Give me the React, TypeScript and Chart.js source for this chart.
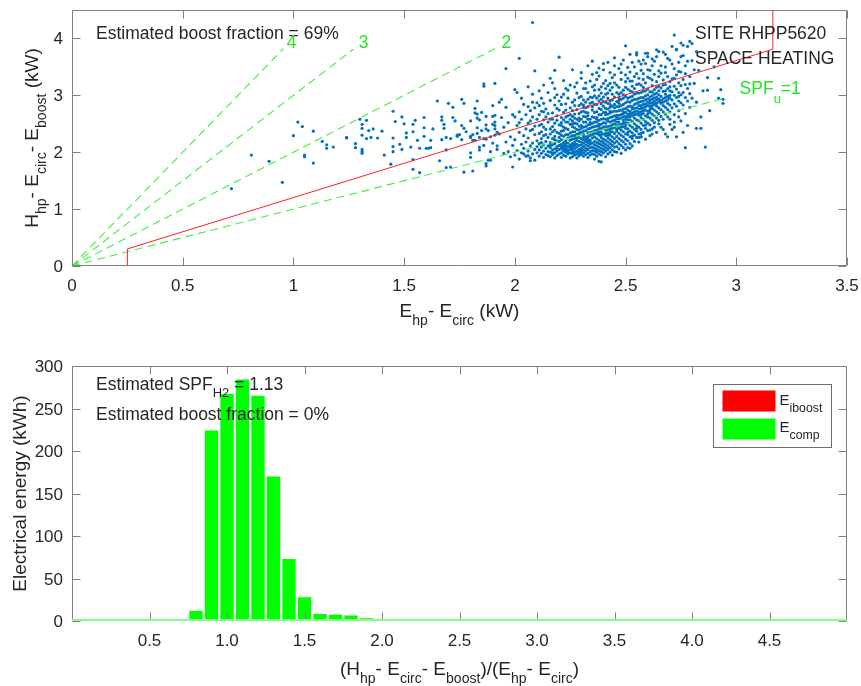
import React, { useEffect, useRef } from 'react';
import { Chart, registerables } from 'chart.js';
Chart.register(...registerables);

const FONT = '"Liberation Sans", Arial, Helvetica, sans-serif';
const TEXT = '#262626';
const AXIS = '#808080';

// ---------------- Top panel data ----------------
const topXTicks = [0, 0.5, 1, 1.5, 2, 2.5, 3, 3.5];
const topXTickLabels = ['0', '0.5', '1', '1.5', '2', '2.5', '3', '3.5'];
const topYTicks = [0, 1, 2, 3, 4];
const topYTickLabels = ['0', '1', '2', '3', '4'];

const boostLineX = [0, 0.25, 0.25, 3.165, 3.165];
const boostLineY = [0, 0, 0.3, 3.81, 4.6];

const spfNames = ['1', '2', '3', '4'];
const spfEndX = [2.95, 1.91, 1.27, 0.955];
const spfEndY = [2.95, 3.82, 3.81, 3.82];
const spfLabelX = [3.015, 1.94, 1.295, 0.97];
const spfLabelY = [3.015, 3.825, 3.825, 3.825];

const scatterPoints: number[][] = [
  [1.02,2.53],[1.04,2.45],[1.00,2.29],[1.09,2.37],[1.13,2.19],[1.15,2.13],[1.15,2.07],[1.18,2.09],[1.24,2.26],[0.81,1.95],[0.89,1.84],[1.05,1.95],[1.05,1.92],[1.09,1.81],[0.95,1.47],[0.72,1.36],
  [1.24,2.25],[1.28,2.15],[1.28,2.08],[1.30,2.58],[1.33,2.56],[1.31,2.49],[1.31,2.42],[1.31,2.30],[1.36,2.41],[1.34,2.38],[1.33,2.24],[1.35,2.26],[1.31,2.05],[1.31,2.01],[1.31,1.98],[1.38,2.25],[1.40,2.37],[1.41,1.95],[1.44,1.79],[1.45,2.72],[1.46,2.54],[1.45,2.25],[1.45,2.10],[1.45,2.01],[1.49,2.62],[1.48,2.14],[1.49,2.05],[1.50,2.50],[1.51,2.34],[1.51,2.26],[1.53,2.09],[1.54,1.87],[1.54,1.70],[1.55,2.56],[1.54,2.49],[1.54,2.36],[1.56,2.21],[1.57,1.64],[1.57,2.07],[1.59,2.61],[1.59,2.43],[1.59,2.28],[1.60,2.07],[1.61,2.07],[1.62,2.08],[1.62,2.21],[1.63,2.41],[1.65,2.90],[1.66,1.85],[1.67,2.22],[1.67,2.62],[1.67,2.56],[1.68,2.49],[1.68,2.42],[1.69,2.26],[1.69,2.04],[1.69,1.73],[1.70,2.86],[1.71,2.24],[1.71,1.74],[1.72,2.79],[1.72,2.61],[1.73,2.55],[1.74,2.30],[1.74,2.28],[1.75,2.31],[1.76,2.47],[1.76,2.93],[1.76,2.22],[1.77,1.65],[1.77,2.86],[1.77,2.42],[1.78,2.36],[1.80,2.55],[1.80,2.28],[1.80,1.91],[1.80,1.99],[1.80,2.26],[1.81,1.67],[1.81,2.31],[1.81,2.21],[1.82,2.21],[1.82,2.69],[1.82,2.77],[1.83,2.90],[1.83,2.60],[1.83,2.43],[1.83,2.33],[1.83,2.67],[1.84,2.04],[1.84,2.26],[1.84,2.57],[1.84,2.09],[1.85,2.38],[1.85,2.70],[1.86,2.24],[1.86,3.20],[1.86,3.16],[1.86,2.12],[1.87,2.63],[1.87,1.80],[1.87,1.76],[1.87,2.48],[1.87,2.41],[1.87,2.23],[1.88,2.38],[1.88,1.86],[1.89,2.01],[1.89,1.86],[1.89,2.27],[1.90,2.63],[1.90,2.16],[1.90,2.82],[1.90,2.49],[1.91,2.41],[1.91,2.30],[1.91,3.21],[1.91,2.65],[1.91,2.53],[1.91,2.47],[1.92,2.35],[1.92,2.11],
  [1.92,2.05],[1.93,2.32],[1.94,2.61],[1.95,1.98],[1.95,2.44],[1.96,2.18],[1.96,2.79],[1.97,2.01],[1.97,2.52],[1.98,2.27],[1.98,1.92],[1.99,2.66],[1.99,2.12],[1.93,2.88],
  [2.00,1.95],[2.00,2.22],[2.01,2.47],[2.01,2.03],[2.02,2.71],[2.02,1.88],[2.02,2.35],[2.03,2.14],[2.03,2.58],[2.03,1.99],[2.04,2.29],[2.04,2.84],[2.04,2.07],[2.01,3.05],[2.05,1.93],[2.05,2.41],[2.05,2.18],[2.00,2.62],[2.03,2.95],[2.04,1.97],
  [2.06,2.02],[2.06,2.25],[2.06,2.51],[2.07,1.90],[2.07,2.11],[2.07,2.73],[2.07,2.38],[2.08,1.97],[2.08,2.16],[2.08,2.62],[2.08,3.02],[2.09,2.05],[2.09,2.31],[2.09,2.46],[2.09,1.86],[2.10,2.20],[2.10,2.87],[2.10,1.99],[2.06,3.15],[2.07,2.55],[2.08,2.40],[2.09,2.78],[2.10,2.10],[2.06,1.94],[2.10,2.58],
  [2.11,1.93],[2.11,2.04],[2.11,2.15],[2.11,2.33],[2.11,2.66],[2.12,1.98],[2.12,2.09],[2.12,2.24],[2.12,2.49],[2.12,2.95],[2.13,1.91],[2.13,2.02],[2.13,2.13],[2.13,2.29],[2.13,2.57],[2.13,3.18],[2.14,1.96],[2.14,2.07],[2.14,2.19],[2.14,2.40],[2.14,2.76],[2.15,2.01],[2.15,2.11],[2.15,2.26],[2.15,2.53],[2.15,3.05],[2.11,2.82],[2.12,2.36],[2.13,2.44],[2.14,2.62],[2.15,1.94],[2.12,2.17],[2.14,2.31],[2.11,2.47],[2.13,2.71],
  [2.16,1.92],[2.16,2.00],[2.16,2.08],[2.16,2.17],[2.16,2.32],[2.16,2.58],[2.16,2.91],[2.17,1.96],[2.17,2.04],[2.17,2.13],[2.17,2.24],[2.17,2.45],[2.17,2.69],[2.17,3.22],[2.18,1.90],[2.18,1.99],[2.18,2.06],[2.18,2.15],[2.18,2.28],[2.18,2.39],[2.18,2.83],[2.19,1.94],[2.19,2.02],[2.19,2.10],[2.19,2.20],[2.19,2.35],[2.19,2.56],[2.19,3.01],[2.20,1.97],[2.20,2.05],[2.20,2.12],[2.20,2.26],[2.20,2.48],[2.20,2.74],[2.16,2.41],[2.17,2.36],[2.18,2.51],[2.19,2.64],[2.20,2.19],[2.16,2.12],[2.18,2.22],[2.17,1.99],[2.19,2.07],[2.20,2.33],[2.18,3.12],
  [2.21,1.91],[2.21,1.99],[2.21,2.06],[2.21,2.14],[2.21,2.22],[2.21,2.37],[2.21,2.61],[2.21,2.97],[2.22,1.95],[2.22,2.02],[2.22,2.09],[2.22,2.17],[2.22,2.28],[2.22,2.44],[2.22,2.70],[2.22,3.26],[2.23,1.93],[2.23,2.00],[2.23,2.07],[2.23,2.12],[2.23,2.20],[2.23,2.31],[2.23,2.53],[2.23,2.85],[2.24,1.97],[2.24,2.04],[2.24,2.10],[2.24,2.16],[2.24,2.25],[2.24,2.40],[2.24,2.64],[2.24,3.09],[2.25,1.90],[2.25,1.99],[2.25,2.05],[2.25,2.13],[2.25,2.21],[2.25,2.34],[2.25,2.49],[2.25,2.78],[2.21,2.30],[2.22,2.12],[2.23,2.42],[2.24,2.31],[2.25,2.58],[2.21,2.47],[2.22,2.57],[2.23,2.17],[2.24,2.53],[2.25,2.27],[2.22,2.05],[2.23,2.04],[2.24,2.00],[2.21,2.10],[2.25,2.09],
  [2.26,1.92],[2.26,1.98],[2.26,2.03],[2.26,2.08],[2.26,2.15],[2.26,2.23],[2.26,2.36],[2.26,2.55],[2.26,2.88],[2.27,1.95],[2.27,2.00],[2.27,2.06],[2.27,2.11],[2.27,2.18],[2.27,2.29],[2.27,2.43],[2.27,2.67],[2.27,3.15],[2.28,1.90],[2.28,1.97],[2.28,2.02],[2.28,2.09],[2.28,2.14],[2.28,2.21],[2.28,2.32],[2.28,2.50],[2.28,2.75],[2.29,1.94],[2.29,1.99],[2.29,2.05],[2.29,2.12],[2.29,2.19],[2.29,2.26],[2.29,2.39],[2.29,2.60],[2.29,2.96],[2.30,1.96],[2.30,2.01],[2.30,2.07],[2.30,2.13],[2.30,2.24],[2.30,2.35],[2.30,2.47],[2.30,2.71],[2.30,3.30],[2.26,2.45],[2.27,2.36],[2.28,2.40],[2.29,2.33],[2.30,2.18],[2.26,2.11],[2.27,2.24],[2.28,2.26],[2.29,2.46],[2.30,2.58],[2.26,2.63],[2.27,2.51],[2.28,2.58],[2.29,2.68],[2.30,2.85],[2.28,3.04],[2.26,2.29],[2.27,2.14],[2.29,2.02],[2.30,2.04],
  [2.31,1.93],[2.31,1.99],[2.31,2.04],[2.31,2.10],[2.31,2.16],[2.31,2.22],[2.31,2.31],[2.31,2.44],[2.31,2.63],[2.31,2.92],[2.32,1.96],[2.32,2.02],[2.32,2.07],[2.32,2.13],[2.32,2.19],[2.32,2.27],[2.32,2.38],[2.32,2.53],[2.32,2.78],[2.32,3.22],[2.33,1.91],[2.33,1.98],[2.33,2.05],[2.33,2.11],[2.33,2.17],[2.33,2.24],[2.33,2.34],[2.33,2.48],[2.33,2.69],[2.33,3.05],[2.34,1.95],[2.34,2.01],[2.34,2.08],[2.34,2.14],[2.34,2.21],[2.34,2.29],[2.34,2.42],[2.34,2.58],[2.34,2.86],[2.35,1.97],[2.35,2.03],[2.35,2.09],[2.35,2.16],[2.35,2.25],[2.35,2.36],[2.35,2.51],[2.35,2.74],[2.35,3.37],[2.31,2.53],[2.32,2.45],[2.33,2.41],[2.34,2.35],[2.35,2.44],[2.31,2.37],[2.32,2.62],[2.33,2.58],[2.34,2.49],[2.35,2.62],[2.31,2.72],[2.32,2.88],[2.33,2.80],[2.34,2.97],[2.35,2.88],[2.31,3.12],[2.33,2.28],[2.32,2.23],[2.34,2.18],[2.35,2.31],[2.31,2.27],[2.33,2.20],
  [2.36,1.88],[2.36,1.96],[2.36,2.02],[2.36,2.07],[2.36,2.13],[2.36,2.19],[2.36,2.27],[2.36,2.38],[2.36,2.53],[2.36,2.70],[2.36,2.99],[2.37,1.93],[2.37,2.00],[2.37,2.05],[2.37,2.11],[2.37,2.17],[2.37,2.24],[2.37,2.33],[2.37,2.46],[2.37,2.61],[2.37,2.84],[2.37,3.28],[2.38,1.84],[2.38,1.97],[2.38,2.03],[2.38,2.09],[2.38,2.15],[2.38,2.21],[2.38,2.30],[2.38,2.41],[2.38,2.56],[2.38,2.77],[2.38,3.10],[2.39,1.95],[2.39,2.01],[2.39,2.07],[2.39,2.13],[2.39,2.19],[2.39,2.26],[2.39,2.36],[2.39,2.49],[2.39,2.66],[2.39,2.93],[2.40,1.99],[2.40,2.05],[2.40,2.11],[2.40,2.17],[2.40,2.23],[2.40,2.32],[2.40,2.44],[2.40,2.59],[2.40,2.81],[2.40,3.45],[2.36,2.45],[2.37,2.39],[2.38,2.49],[2.39,2.42],[2.40,2.52],[2.36,2.61],[2.37,2.71],[2.38,2.66],[2.39,2.58],[2.40,2.70],[2.36,2.84],[2.37,2.95],[2.38,2.90],[2.39,3.04],[2.40,2.97],[2.36,3.18],[2.38,3.34],[2.40,3.21],[2.37,2.53],[2.39,2.31],[2.36,2.33],[2.38,2.35],
  [2.41,1.92],[2.41,2.02],[2.41,2.08],[2.41,2.14],[2.41,2.21],[2.41,2.29],[2.41,2.39],[2.41,2.51],[2.41,2.66],[2.41,2.88],[2.41,3.26],[2.42,1.97],[2.42,2.05],[2.42,2.11],[2.42,2.18],[2.42,2.25],[2.42,2.34],[2.42,2.45],[2.42,2.59],[2.42,2.76],[2.42,3.04],[2.43,2.00],[2.43,2.08],[2.43,2.15],[2.43,2.22],[2.43,2.30],[2.43,2.40],[2.43,2.53],[2.43,2.69],[2.43,2.90],[2.43,3.40],[2.44,1.95],[2.44,2.04],[2.44,2.12],[2.44,2.19],[2.44,2.27],[2.44,2.36],[2.44,2.48],[2.44,2.62],[2.44,2.81],[2.44,3.14],[2.45,2.01],[2.45,2.09],[2.45,2.16],[2.45,2.24],[2.45,2.33],[2.45,2.43],[2.45,2.56],[2.45,2.72],[2.45,2.97],[2.45,3.52],[2.41,2.45],[2.42,2.40],[2.43,2.46],[2.44,2.55],[2.45,2.50],[2.41,2.58],[2.42,2.67],[2.43,2.61],[2.44,2.71],[2.45,2.64],[2.41,2.77],[2.42,2.86],[2.43,2.79],[2.44,2.92],[2.45,2.84],[2.41,3.02],[2.42,3.17],[2.43,3.09],[2.44,3.31],[2.45,3.22],[2.42,2.30],[2.44,2.42],[2.41,2.33],[2.43,2.35],
  [2.46,2.00],[2.46,2.10],[2.46,2.19],[2.46,2.28],[2.46,2.37],[2.46,2.47],[2.46,2.59],[2.46,2.72],[2.46,2.89],[2.46,3.18],[2.47,2.06],[2.47,2.15],[2.47,2.24],[2.47,2.33],[2.47,2.42],[2.47,2.53],[2.47,2.65],[2.47,2.80],[2.47,3.02],[2.47,3.47],[2.48,1.98],[2.48,2.12],[2.48,2.21],[2.48,2.30],[2.48,2.39],[2.48,2.49],[2.48,2.60],[2.48,2.74],[2.48,2.93],[2.48,3.28],[2.49,2.08],[2.49,2.18],[2.49,2.27],[2.49,2.36],[2.49,2.45],[2.49,2.56],[2.49,2.68],[2.49,2.84],[2.49,3.09],[2.49,3.62],[2.50,2.04],[2.50,2.14],[2.50,2.23],[2.50,2.32],[2.50,2.42],[2.50,2.52],[2.50,2.63],[2.50,2.77],[2.50,2.98],[2.50,3.36],[2.46,2.53],[2.47,2.59],[2.48,2.66],[2.49,2.62],[2.50,2.70],[2.46,2.65],[2.47,2.73],[2.48,2.82],[2.49,2.76],[2.50,2.87],[2.46,2.80],[2.47,2.91],[2.48,3.05],[2.49,2.95],[2.50,3.14],[2.46,2.41],[2.48,2.44],[2.50,2.47],[2.47,2.48],[2.49,2.51],
  [2.51,2.08],[2.51,2.20],[2.51,2.31],[2.51,2.41],[2.51,2.51],[2.51,2.62],[2.51,2.74],[2.51,2.89],[2.51,3.11],[2.51,3.49],[2.52,2.15],[2.52,2.27],[2.52,2.37],[2.52,2.47],[2.52,2.57],[2.52,2.68],[2.52,2.81],[2.52,2.97],[2.52,3.25],[2.53,2.11],[2.53,2.24],[2.53,2.34],[2.53,2.44],[2.53,2.54],[2.53,2.64],[2.53,2.76],[2.53,2.91],[2.53,3.16],[2.53,3.58],[2.54,2.19],[2.54,2.30],[2.54,2.40],[2.54,2.50],[2.54,2.60],[2.54,2.71],[2.54,2.84],[2.54,3.02],[2.54,3.33],[2.55,2.26],[2.55,2.37],[2.55,2.47],[2.55,2.57],[2.55,2.67],[2.55,2.78],[2.55,2.93],[2.55,3.19],[2.55,3.71],[2.51,2.67],[2.52,2.72],[2.53,2.80],[2.54,2.77],[2.55,2.86],[2.51,2.80],[2.52,2.88],[2.53,2.98],[2.54,2.93],[2.55,3.04],[2.51,2.95],[2.52,3.08],[2.53,3.06],[2.54,3.12],[2.55,2.72],[2.52,2.63],[2.54,2.66],[2.51,2.57],[2.53,2.69],
  [2.56,2.18],[2.56,2.32],[2.56,2.44],[2.56,2.55],[2.56,2.65],[2.56,2.76],[2.56,2.88],[2.56,3.04],[2.56,3.30],[2.57,2.27],[2.57,2.40],[2.57,2.51],[2.57,2.61],[2.57,2.71],[2.57,2.82],[2.57,2.96],[2.57,3.18],[2.57,3.55],[2.58,2.35],[2.58,2.47],[2.58,2.58],[2.58,2.68],[2.58,2.78],[2.58,2.90],[2.58,3.07],[2.58,3.38],[2.59,2.23],[2.59,2.42],[2.59,2.54],[2.59,2.64],[2.59,2.74],[2.59,2.85],[2.59,2.99],[2.59,3.22],[2.59,3.74],[2.60,2.38],[2.60,2.51],[2.60,2.62],[2.60,2.72],[2.60,2.82],[2.60,2.94],[2.60,3.11],[2.60,3.45],[2.56,2.70],[2.57,2.77],[2.58,2.84],[2.59,2.80],[2.60,2.88],[2.56,2.82],[2.57,2.89],[2.58,2.96],[2.59,2.92],[2.60,3.01],[2.56,2.95],[2.57,3.05],[2.58,3.14],[2.59,3.08],[2.60,2.67],[2.57,2.66],[2.58,2.73],
  [2.61,2.29],[2.61,2.48],[2.61,2.60],[2.61,2.70],[2.61,2.80],[2.61,2.91],[2.61,3.06],[2.61,3.30],[2.62,2.41],[2.62,2.56],[2.62,2.67],[2.62,2.77],[2.62,2.87],[2.62,2.99],[2.62,3.17],[2.62,3.52],[2.63,2.52],[2.63,2.64],[2.63,2.74],[2.63,2.84],[2.63,2.95],[2.63,3.10],[2.63,3.37],[2.64,2.35],[2.64,2.60],[2.64,2.71],[2.64,2.81],[2.64,2.92],[2.64,3.04],[2.64,3.24],[2.64,3.68],[2.65,2.56],[2.65,2.68],[2.65,2.78],[2.65,2.89],[2.65,3.01],[2.65,3.16],[2.65,3.43],[2.61,2.75],[2.62,2.82],[2.63,2.89],[2.64,2.86],[2.65,2.94],[2.61,2.86],[2.62,2.93],[2.63,3.02],[2.64,2.97],[2.65,3.08],[2.62,3.06],[2.61,2.97],
  [2.66,2.44],[2.66,2.63],[2.66,2.75],[2.66,2.86],[2.66,2.98],[2.66,3.13],[2.66,3.39],[2.67,2.58],[2.67,2.71],[2.67,2.82],[2.67,2.94],[2.67,3.07],[2.67,3.27],[2.67,3.76],[2.68,2.32],[2.68,2.67],[2.68,2.79],[2.68,2.90],[2.68,3.02],[2.68,3.19],[2.68,3.50],[2.69,2.62],[2.69,2.75],[2.69,2.86],[2.69,2.98],[2.69,3.12],[2.69,3.33],[2.70,2.49],[2.70,2.71],[2.70,2.83],[2.70,2.95],[2.70,3.08],[2.70,3.24],[2.70,3.62],[2.66,2.91],[2.67,2.88],[2.68,2.96],[2.69,2.92],[2.70,3.00],[2.68,3.08],
  [2.71,2.40],[2.71,2.78],[2.71,2.92],[2.71,3.06],[2.71,3.29],[2.72,2.66],[2.72,2.85],[2.72,3.00],[2.72,3.16],[2.72,3.47],[2.73,2.27],[2.73,2.81],[2.73,2.96],[2.73,3.11],[2.73,3.36],[2.73,3.80],[2.74,2.73],[2.74,2.90],[2.74,3.05],[2.74,3.22],[2.74,3.58],[2.75,2.55],[2.75,2.87],[2.75,3.01],[2.75,3.17],[2.75,3.41],[2.72,2.53],[2.74,2.98],
  [2.76,2.35],[2.76,2.83],[2.76,3.05],[2.76,3.28],[2.76,3.70],[2.77,2.68],[2.77,2.96],[2.77,3.19],[2.77,3.52],[2.78,2.47],[2.78,2.90],[2.78,3.12],[2.78,3.86],[2.79,2.79],[2.79,3.03],[2.79,3.33],[2.80,2.95],[2.80,3.61],
  [2.81,3.21],[2.82,2.88],[2.82,3.77],[2.83,3.44],[2.84,2.62],[2.85,3.08],[2.87,3.31],[2.88,2.73],[2.90,3.50],[2.92,2.95],[2.93,3.10],
  [2.72,4.06],[2.80,3.91],[2.92,3.30],[2.94,2.93],[2.94,2.86],[2.87,3.09],[2.82,2.42],[2.84,2.42],[2.86,2.09],[2.77,2.08],[2.39,1.83],[2.69,2.27],[2.57,2.27],[2.52,2.07],[2.08,4.28],[2.50,3.87],[2.20,3.67],[2.02,3.65],[1.96,3.47],[2.09,3.43],[2.18,3.44],[2.00,3.10],[1.94,2.93],[2.40,3.56],[2.55,3.75],[2.60,3.74],[2.65,3.77],[2.73,3.81],[2.76,3.88],[1.99,1.74],[2.07,1.85],
  [2.02,2.52],[2.05,2.66],[2.08,2.88],[2.11,3.08],[2.13,2.86],[2.15,2.68],[2.16,3.30],[2.18,2.96],[2.19,2.77],[2.21,2.84],[2.22,3.02],[2.23,2.62],[2.24,2.95],[2.25,3.18],[2.26,2.73],[2.27,2.92],[2.28,3.22],[2.29,2.82],[2.30,2.98],[2.31,2.83],[2.32,3.12],[2.33,2.93],[2.34,3.25],[2.35,2.96],[2.36,3.09],[2.37,3.40],[2.38,2.99],[2.39,3.15],[2.40,2.89],[2.41,3.12],[2.42,2.95],[2.43,3.21],[2.44,3.02],[2.45,3.36],[2.46,3.05],[2.47,3.14],[2.48,3.40],[2.49,3.01],[2.50,3.24],[2.06,2.80],[2.12,2.72],[2.17,2.58],[2.20,2.90],[2.23,3.12],[2.27,2.60],[2.32,2.70],[2.35,3.15],[2.39,2.75],[2.43,2.72],[2.47,2.96],
  [2.51,3.30],[2.52,3.41],[2.53,3.25],[2.54,3.50],[2.55,3.38],[2.56,3.20],[2.57,3.44],[2.58,3.28],[2.59,3.56],[2.60,3.32],[2.61,3.44],[2.62,3.27],[2.63,3.60],[2.64,3.14],[2.65,3.33],[2.66,3.52],[2.67,3.18],[2.68,3.40],[2.69,3.65],[2.70,3.15],[2.71,3.55],[2.72,3.30],[2.74,3.42],[2.75,3.68],[2.77,3.38],[2.78,3.60],[2.79,3.20],[2.81,3.45],[2.62,3.64],[2.58,3.62],
  [2.51,2.35],[2.53,2.28],[2.55,2.42],[2.57,2.33],[2.59,2.48],[2.61,2.39],[2.63,2.44],[2.65,2.50],[2.67,2.40],[2.70,2.58],[2.72,2.44],[2.74,2.62],[2.62,2.32],[2.56,2.26],
  [2.30,3.40],[2.33,3.52],[2.38,3.48],[2.42,3.58],[2.45,3.66],[2.48,3.55],[2.52,3.72],[2.56,3.60],[2.60,3.68],[2.64,3.80],[2.68,3.72],[2.71,3.86],[2.75,3.92],[2.79,3.95],[2.26,3.45],[2.35,3.60],
  [2.21,2.52],[2.23,2.74],[2.25,2.66],[2.27,2.82],[2.29,2.55],[2.31,2.79],[2.33,2.64],[2.35,2.80],[2.37,2.58],[2.39,2.85],[2.41,2.70],[2.43,2.84],[2.45,2.78],[2.47,2.86],[2.49,2.71],[2.22,2.38],[2.26,2.50],[2.30,2.42],[2.34,2.52],[2.38,2.46],[2.42,2.55],[2.46,2.62],[2.50,2.58]
];

// ---------------- Bottom panel data ----------------
const binCenters = [
  0.1, 0.2, 0.3, 0.4, 0.5, 0.6, 0.7, 0.8, 0.9, 1.0,
  1.1, 1.2, 1.3, 1.4, 1.5, 1.6, 1.7, 1.8, 1.9, 2.0,
  2.1, 2.2, 2.3, 2.4, 2.5, 2.6, 2.7, 2.8, 2.9, 3.0,
  3.1, 3.2, 3.3, 3.4, 3.5, 3.6, 3.7, 3.8, 3.9, 4.0,
  4.1, 4.2, 4.3, 4.4, 4.5, 4.6, 4.7, 4.8, 4.9,
];
const compEnergy = [
  0, 0, 0, 0, 0, 0.5, 2.3, 12, 224, 267,
  284, 265, 170, 73, 28, 8.2, 7.5, 6.5, 3.3, 1.4,
  0.9, 0.3, 1.1, 0, 0, 0, 0, 0, 0, 0,
  0, 0, 0, 0, 0, 0, 0, 0, 0, 0,
  0, 0, 0, 0, 0, 0, 0, 0, 0,
];
const boostEnergy = [
  0, 0, 0, 0, 0, 0, 0, 0, 0, 0,
  0, 0, 0, 0, 0, 0, 0, 0, 0, 0,
  0, 0, 0, 0, 0, 0, 0, 0, 0, 0,
  0, 0, 0, 0, 0, 0, 0, 0, 0, 0,
  0, 0, 0, 0, 0, 0, 0, 0, 0,
];
const bottomXTicks = [0.5, 1, 1.5, 2, 2.5, 3, 3.5, 4, 4.5];
const bottomXTickLabels = ['0.5', '1.0', '1.5', '2.0', '2.5', '3.0', '3.5', '4.0', '4.5'];
const bottomYTicks = [0, 50, 100, 150, 200, 250, 300];
const bottomYTickLabels = ['0', '50', '100', '150', '200', '250', '300'];

// ---------------- drawing helpers ----------------
type Seg = [string, boolean?];

function drawRich(ctx: CanvasRenderingContext2D, segs: Seg[], x: number, y: number, size: number,
  align: 'left' | 'center' = 'left', color = TEXT, subScale = 0.74, subDrop = 0.42) {
  const subSize = size * subScale;
  let w = 0;
  for (const [t, sub] of segs) {
    ctx.font = `${sub ? subSize : size}px ${FONT}`;
    w += ctx.measureText(t).width;
  }
  let cx = align === 'center' ? x - w / 2 : x;
  ctx.fillStyle = color;
  ctx.textAlign = 'left';
  ctx.textBaseline = 'alphabetic';
  for (const [t, sub] of segs) {
    ctx.font = `${sub ? subSize : size}px ${FONT}`;
    ctx.fillText(t, cx, sub ? y + size * subDrop : y);
    cx += ctx.measureText(t).width;
  }
}

function drawFrame(chart: any, xTicks: number[], xLabels: string[], yTicks: number[], yLabels: string[]) {
  const { ctx, chartArea: a, scales } = chart;
  const xs = scales.x, ys = scales.y;
  const L = Math.round(a.left) + 0.5, R = Math.round(a.right) - 0.5;
  const T = Math.round(a.top) + 0.5, B = Math.round(a.bottom) - 0.5;
  const TL = 8;
  ctx.save();
  ctx.strokeStyle = AXIS;
  ctx.lineWidth = 1;
  ctx.beginPath();
  ctx.rect(L, T, R - L, B - T);
  xTicks.forEach((v) => {
    const px = Math.round(xs.getPixelForValue(v)) + 0.5;
    ctx.moveTo(px, B); ctx.lineTo(px, B - TL);
    ctx.moveTo(px, T); ctx.lineTo(px, T + TL);
  });
  yTicks.forEach((v) => {
    const py = Math.round(ys.getPixelForValue(v)) + 0.5;
    ctx.moveTo(L, py); ctx.lineTo(L + TL, py);
    ctx.moveTo(R, py); ctx.lineTo(R - TL, py);
  });
  ctx.stroke();
  ctx.fillStyle = TEXT;
  ctx.font = `17px ${FONT}`;
  ctx.textAlign = 'center';
  ctx.textBaseline = 'alphabetic';
  xTicks.forEach((v, i) => {
    ctx.fillText(xLabels[i], xs.getPixelForValue(v), a.bottom + 25);
  });
  ctx.textAlign = 'right';
  yTicks.forEach((v, i) => {
    ctx.fillText(yLabels[i], a.left - 9, ys.getPixelForValue(v) + 6);
  });
  ctx.restore();
}

function drawRotated(ctx: CanvasRenderingContext2D, segs: Seg[], x: number, yc: number, size: number) {
  ctx.save();
  ctx.translate(x, yc);
  ctx.rotate(-Math.PI / 2);
  drawRich(ctx, segs, 0, 0, size, 'center');
  ctx.restore();
}

const topDeco = {
  id: 'topDeco',
  afterDraw(chart: any) {
    const { ctx, chartArea: a, scales } = chart;
    drawFrame(chart, topXTicks, topXTickLabels, topYTicks, topYTickLabels);
    ctx.save();
    drawRich(ctx, [['E'], ['hp', true], ['- E'], ['circ', true], [' (kW)']], (a.left + a.right) / 2, a.bottom + 51, 19, 'center');
    drawRotated(ctx, [['H'], ['hp', true], ['- E'], ['circ', true], ['- E'], ['boost', true], [' (kW)']], 38, (a.top + a.bottom) / 2, 19);
    drawRich(ctx, [['Estimated boost fraction = 69%']], a.left + 24, a.top + 29, 17.5);
    drawRich(ctx, [['SITE RHPP5620']], a.left + 623, a.top + 29, 17.5);
    drawRich(ctx, [['SPACE HEATING']], a.left + 623, a.top + 53.5, 17.5);
    spfNames.forEach((n, i) => {
      const px = scales.x.getPixelForValue(spfLabelX[i]);
      const py = scales.y.getPixelForValue(spfLabelY[i]);
      const segs: Seg[] = i === 0 ? [['SPF'], ['u', true], ['=' + n]] : [[n]];
      drawRich(ctx, segs, px, py, 17.5, 'left', '#22e622', 0.74, 0.5);
    });
    ctx.restore();
  },
};

const bottomDeco = {
  id: 'bottomDeco',
  afterDraw(chart: any) {
    const { ctx, chartArea: a, scales } = chart;
    drawFrame(chart, bottomXTicks, bottomXTickLabels, bottomYTicks, bottomYTickLabels);
    ctx.save();
    // zero-height bar edges along the baseline
    const y0 = Math.round(scales.y.getPixelForValue(0));
    ctx.fillStyle = '#84ff84';
    const x0 = scales.x.getPixelForValue(binCenters[0] - 0.1);
    const x1 = scales.x.getPixelForValue(binCenters[binCenters.length - 1] + 0.1);
    ctx.fillRect(x0, y0 - 2, x1 - x0, 2);
    drawRich(ctx, [['(H'], ['hp', true], ['- E'], ['circ', true], ['- E'], ['boost', true], [')/(E'], ['hp', true], ['- E'], ['circ', true], [')']],
      (a.left + a.right) / 2, a.bottom + 54, 19, 'center');
    drawRotated(ctx, [['Electrical energy (kWh)']], 25.5, (a.top + a.bottom) / 2, 19);
    drawRich(ctx, [['Estimated SPF'], ['H2', true], [' = 1.13']], a.left + 24, a.top + 23.5, 17.5);
    drawRich(ctx, [['Estimated boost fraction = 0%']], a.left + 24, a.top + 53.5, 17.5);
    // legend
    const lx = a.right - 134.5, ly = a.top + 17.5, lw = 117.5, lh = 62.5;
    ctx.fillStyle = '#ffffff';
    ctx.fillRect(lx, ly, lw, lh);
    ctx.strokeStyle = '#6e6e6e';
    ctx.lineWidth = 1;
    ctx.strokeRect(Math.round(lx) + 0.5, Math.round(ly) + 0.5, Math.round(lw), Math.round(lh));
    ctx.fillStyle = '#ff0000';
    ctx.fillRect(lx + 10, ly + 7, 53, 21);
    ctx.fillStyle = '#00ff00';
    ctx.fillRect(lx + 10, ly + 35, 53, 21);
    drawRich(ctx, [['E'], ['iboost', true]], lx + 67, ly + 21, 15, 'left', TEXT, 0.82, 0.48);
    drawRich(ctx, [['E'], ['comp', true]], lx + 67, ly + 48, 15, 'left', TEXT, 0.82, 0.48);
    ctx.restore();
  },
};

function TopChart() {
  const ref = useRef<HTMLCanvasElement>(null);
  useEffect(() => {
    if (!ref.current) return;
    const chart = new Chart(ref.current, {
      type: 'scatter',
      data: {
        datasets: [
          {
            data: boostLineX.map((x, i) => ({ x, y: boostLineY[i] })),
            showLine: true, borderColor: '#ff2020', borderWidth: 1, pointRadius: 0, tension: 0,
          },
          ...spfEndX.map((ex, i) => ({
            data: [{ x: 0, y: 0 }, { x: ex, y: spfEndY[i] }],
            showLine: true, borderColor: '#3ef03e', borderWidth: 1.1, borderDash: [8, 5], pointRadius: 0,
          })),
          {
            data: scatterPoints.map(([x, y]) => ({ x, y })),
            backgroundColor: '#0072BD', borderWidth: 0, pointRadius: 1.6,
          },
        ] as any,
      },
      options: {
        animation: false,
        responsive: false,
        devicePixelRatio: 1,
        events: [],
        layout: { padding: { left: 72, right: 14, top: 10, bottom: 64 } },
        plugins: { legend: { display: false }, tooltip: { enabled: false } },
        scales: {
          x: { type: 'linear', min: 0, max: 3.5, display: false },
          y: { type: 'linear', min: 0, max: 4.5, display: false },
        },
      },
      plugins: [topDeco],
    });
    return () => chart.destroy();
  }, []);
  return <canvas ref={ref} width={861} height={330} style={{ display: 'block', width: 861, height: 330 }} />;
}

function BottomChart() {
  const ref = useRef<HTMLCanvasElement>(null);
  useEffect(() => {
    if (!ref.current) return;
    const chart = new Chart(ref.current, {
      type: 'bar',
      data: {
        datasets: [
          {
            label: 'E_iboost',
            data: binCenters.map((x, i) => ({ x, y: boostEnergy[i] })),
            backgroundColor: '#ff0000', barPercentage: 0.86, categoryPercentage: 1,
          },
          {
            label: 'E_comp',
            data: binCenters.map((x, i) => ({ x, y: compEnergy[i] })),
            backgroundColor: '#00ff00', barPercentage: 0.86, categoryPercentage: 1,
          },
        ] as any,
      },
      options: {
        animation: false,
        responsive: false,
        devicePixelRatio: 1,
        events: [],
        layout: { padding: { left: 72, right: 14, top: 36, bottom: 65 } },
        plugins: { legend: { display: false }, tooltip: { enabled: false } },
        scales: {
          x: { type: 'linear', min: 0, max: 5, offset: false, stacked: true, display: false },
          y: { type: 'linear', min: 0, max: 300, stacked: true, display: false },
        },
      },
      plugins: [bottomDeco],
    });
    return () => chart.destroy();
  }, []);
  return <canvas ref={ref} width={861} height={356} style={{ display: 'block', width: 861, height: 356 }} />;
}

export default function App() {
  return (
    <div style={{ position: 'absolute', left: 0, top: 0, width: 861, height: 686, background: '#ffffff' }}>
      <TopChart />
      <BottomChart />
    </div>
  );
}
